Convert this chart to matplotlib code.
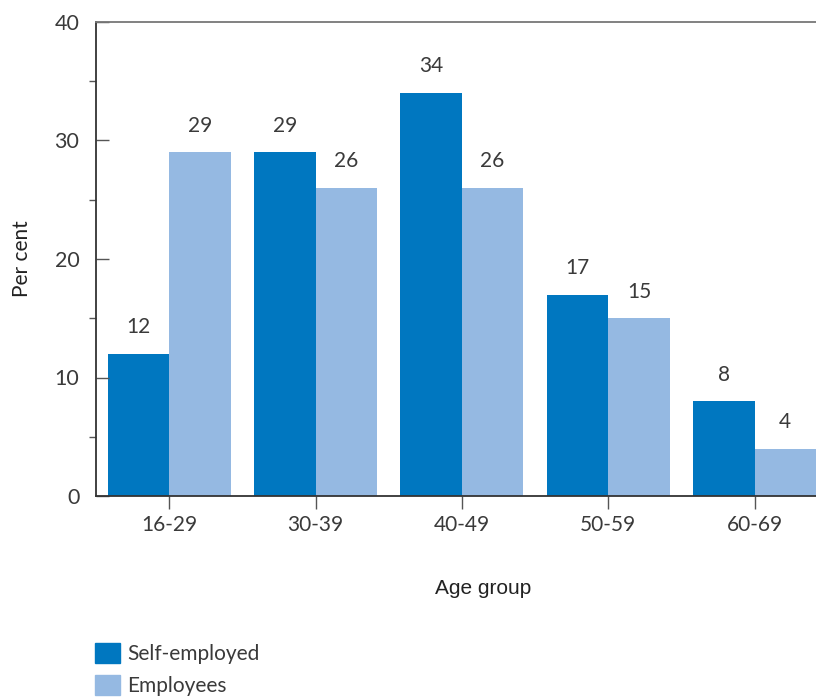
import matplotlib.pyplot as plt
from matplotlib.patches import Patch
from matplotlib.ticker import MultipleLocator
import numpy as np

# Data
age_groups = ["16-29", "30-39", "40-49", "50-59", "60-69"]
self_employed = [12, 29, 34, 17, 8]
employees = [29, 26, 26, 15, 4]

DARK = "#0077c0"
LIGHT = "#95b9e2"
TXT = "#3a3a3a"

plt.rcParams['font.family'] = ['Lato', 'DejaVu Sans']

fig = plt.figure(figsize=(8.16, 7.0), dpi=100)
ax = fig.add_axes([96 / 816, 1 - 496 / 700, 1 - 96 / 816, (496 - 22) / 700])

x = np.arange(len(age_groups))
w = 0.42
ax.bar(x - w / 2, self_employed, w, color=DARK)
ax.bar(x + w / 2, employees, w, color=LIGHT)

for xi, v in zip(x - w / 2, self_employed):
    ax.annotate(str(v), (xi, v), xytext=(0, 12), textcoords="offset points",
                ha="center", va="bottom", fontsize=15, color=TXT)
for xi, v in zip(x + w / 2, employees):
    ax.annotate(str(v), (xi, v), xytext=(0, 12), textcoords="offset points",
                ha="center", va="bottom", fontsize=15, color=TXT)

ax.set_xlim(-0.5, 4.42)
ax.set_ylim(0, 40)
ax.set_xticks(x)
ax.set_xticklabels(age_groups)
ax.yaxis.set_major_locator(MultipleLocator(10))
ax.yaxis.set_minor_locator(MultipleLocator(5))

ax.tick_params(axis="y", which="major", direction="in", length=9, width=1,
               color="#555555", labelsize=15.5, labelcolor=TXT, pad=12)
ax.tick_params(axis="y", which="minor", direction="out", length=5, width=1,
               color="#555555")
ax.tick_params(axis="x", direction="out", length=9, width=1, color="#555555",
               labelsize=15, labelcolor=TXT, pad=5)

for s in ["left", "bottom"]:
    ax.spines[s].set_color("#333333")
    ax.spines[s].set_linewidth(1.3)
ax.spines["top"].set_color("#777777")
ax.spines["top"].set_linewidth(1.3)
ax.spines["right"].set_visible(False)

ax.set_ylabel("Per cent", fontsize=15, color="#222222", labelpad=16)
fig.text(483 / 816, 1 - 588 / 700, "Age group", ha="center", va="center",
         fontsize=15, color="#222222", family=["Liberation Sans"])

handles = [Patch(color=DARK, label="Self-employed"),
           Patch(color=LIGHT, label="Employees")]
fig.legend(handles=handles, loc="upper left", bbox_to_anchor=(95 / 816, 1 - 643 / 700),
           frameon=False, fontsize=15, handlelength=1.2, handleheight=1.1,
           handletextpad=0.35, labelspacing=0.5, labelcolor=TXT,
           borderaxespad=0, borderpad=0)

fig.savefig("out.png", dpi=100)
